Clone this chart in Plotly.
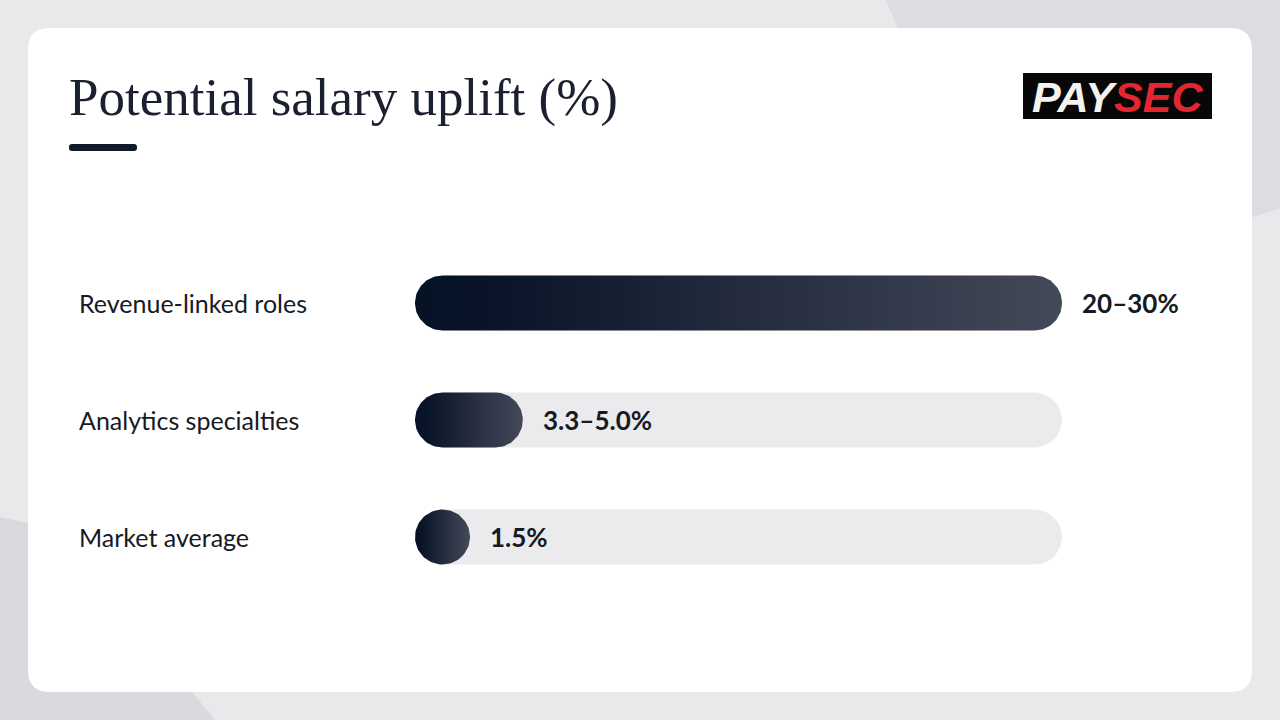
import numpy as np
import plotly.graph_objects as go

# ---- data ----
categories = ["Revenue-linked roles", "Analytics specialties", "Market average"]
value_labels = ["20–30%", "3.3–5.0%", "1.5%"]
upper_values = [30.0, 5.0, 1.5]   # upper bound of each range (%)
track_max = 30.0
title_text = "Potential salary uplift (%)"

# ---- geometry (pixels) ----
W, H = 1280, 720
X0_PX, X1_PX = 415, 1062          # track extent
ROW_PX = 117                      # row pitch
BAR_PX = 55                       # bar thickness
Y_TOP_PX = 303 - ROW_PX / 2
Y_BOT_PX = 537 + ROW_PX / 2

kx = (X1_PX - X0_PX) / track_max  # px per x unit
ky = ROW_PX                       # px per y unit
r_px = BAR_PX / 2

fig = go.Figure()


def pill(value, yc):
    """Pill outline in data units for a bar from 0 to value at row yc."""
    rx = r_px / kx
    ry = r_px / ky
    x_end = max(value, 2 * rx)
    cl, cr = rx, x_end - rx
    t_right = np.linspace(-np.pi / 2, np.pi / 2, 48)
    t_left = np.linspace(np.pi / 2, 3 * np.pi / 2, 48)
    xs = np.concatenate([cr + rx * np.cos(t_right), cl + rx * np.cos(t_left)])
    ys = np.concatenate([yc - ry * np.sin(t_right), yc - ry * np.sin(t_left)])
    return np.append(xs, xs[0]), np.append(ys, ys[0]), x_end


# tracks (light gray pills, full scale)
for i in range(len(categories)):
    xs, ys, _ = pill(track_max, i)
    fig.add_trace(go.Scatter(
        x=xs, y=ys, mode="lines", fill="toself", fillcolor="#ebebee",
        line=dict(width=0, color="rgba(0,0,0,0)"),
        hoverinfo="skip", showlegend=False,
    ))

# value bars (gradient pills)
ends = []
for i, v in enumerate(upper_values):
    xs, ys, x_end = pill(v, i)
    ends.append(x_end)
    fig.add_trace(go.Scatter(
        x=xs, y=ys, mode="lines", fill="toself", line=dict(width=0, color="rgba(0,0,0,0)"),
        fillgradient=dict(type="horizontal",
                          colorscale=[[0, "#051226"], [0.12, "#0a1428"], [1, "#444959"]]),
        hoverinfo="skip", showlegend=False,
    ))

annotations = []
for i, (cat, lab) in enumerate(zip(categories, value_labels)):
    annotations.append(dict(
        x=77 / W, xref="paper", y=i, yref="y", text=cat, showarrow=False,
        xanchor="left", yanchor="middle",
        font=dict(family="Lato", size=25, color="#161a24"),
    ))
    annotations.append(dict(
        x=ends[i], xref="x", y=i, yref="y", text=f"<b>{lab}</b>", showarrow=False,
        xanchor="left", yanchor="middle", xshift=18,
        font=dict(family="Lato", size=26, color="#161a24"),
    ))

annotations.append(dict(
    x=67 / W, xref="paper", y=1 - 98 / H, yref="paper", text=title_text, showarrow=False,
    xanchor="left", yanchor="middle",
    font=dict(family="Liberation Serif", size=53, color="#1b2030"),
))
annotations.append(dict(
    x=1117.5 / W, xref="paper", y=1 - 97 / H, yref="paper",
    text="<b><i><span style='color:#f3f2ee'>PAY</span><span style='color:#e3262f'>SEC</span></i></b>",
    showarrow=False, xanchor="center", yanchor="middle",
    font=dict(family="Liberation Sans", size=43),
))


def px_rect(x0, y0, x1, y1):
    return dict(x0=x0 / W, x1=x1 / W, y0=1 - y1 / H, y1=1 - y0 / H)


def rounded_rect_path(x0, y0, x1, y1, r):
    X = lambda v: v / W
    Y = lambda v: 1 - v / H
    return (f"M {X(x0 + r)},{Y(y0)} L {X(x1 - r)},{Y(y0)} "
            f"Q {X(x1)},{Y(y0)} {X(x1)},{Y(y0 + r)} L {X(x1)},{Y(y1 - r)} "
            f"Q {X(x1)},{Y(y1)} {X(x1 - r)},{Y(y1)} L {X(x0 + r)},{Y(y1)} "
            f"Q {X(x0)},{Y(y1)} {X(x0)},{Y(y1 - r)} L {X(x0)},{Y(y0 + r)} "
            f"Q {X(x0)},{Y(y0)} {X(x0 + r)},{Y(y0)} Z")


def poly_path(pts):
    return "M " + " L ".join(f"{x / W},{1 - y / H}" for x, y in pts) + " Z"


shapes = [
    # background facets
    dict(type="path", xref="paper", yref="paper", layer="below",
         path=poly_path([(886, 0), (1280, 0), (1280, 208), (1010, 300)]),
         fillcolor="#dcdde0", line=dict(width=0)),
    dict(type="path", xref="paper", yref="paper", layer="below",
         path=poly_path([(0, 517), (60, 530), (215, 720), (0, 720)]),
         fillcolor="#d9dadd", line=dict(width=0)),
    # white card
    dict(type="path", xref="paper", yref="paper", layer="below",
         path=rounded_rect_path(28, 28, 1252, 692, 22),
         fillcolor="#ffffff", line=dict(width=0)),
    # title underline
    dict(type="path", xref="paper", yref="paper", layer="below",
         path=rounded_rect_path(69, 144, 137, 151, 3),
         fillcolor="#111a2b", line=dict(width=0)),
    # logo box
    dict(type="rect", xref="paper", yref="paper", layer="below",
         **px_rect(1023, 73, 1212, 119), fillcolor="#070707", line=dict(width=0)),
]

fig.update_layout(
    width=W, height=H,
    margin=dict(l=0, r=0, t=0, b=0),
    paper_bgcolor="#e8e9eb", plot_bgcolor="rgba(0,0,0,0)",
    xaxis=dict(range=[0, track_max], domain=[X0_PX / W, X1_PX / W],
               visible=False, fixedrange=True),
    yaxis=dict(range=[len(categories) - 0.5, -0.5],
               domain=[1 - Y_BOT_PX / H, 1 - Y_TOP_PX / H],
               visible=False, fixedrange=True),
    shapes=shapes, annotations=annotations,
    showlegend=False,
)

fig.write_html(
    "out.html",
    config={"displayModeBar": False},
    post_script="document.body.style.margin='0';document.body.style.overflow='hidden';",
)
